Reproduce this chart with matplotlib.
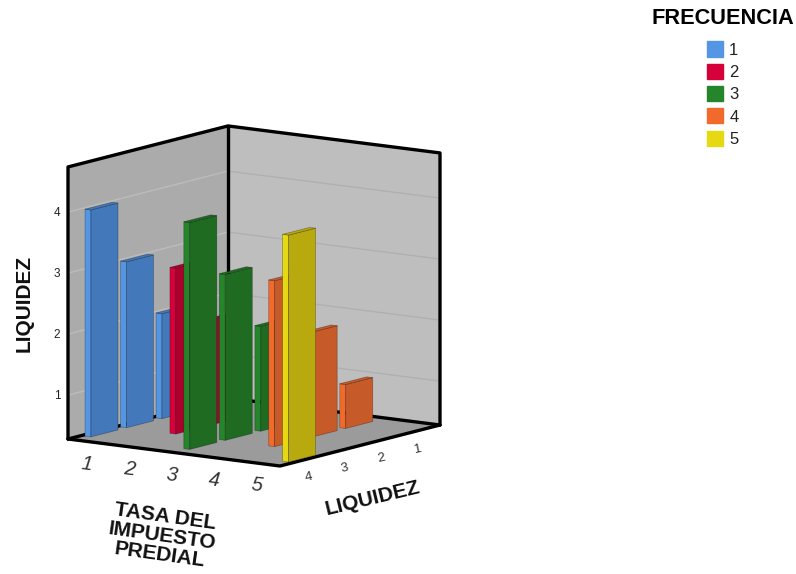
import matplotlib
matplotlib.use("Agg")
import matplotlib.pyplot as plt
from matplotlib.patches import Polygon, Patch

plt.rcParams["font.family"] = ["Liberation Sans", "DejaVu Sans"]

# Chart data: one entry per FRECUENCIA series
frecuencia_labels = ["1", "2", "3", "4", "5"]
tasa_labels = ["1", "2", "3", "4", "5"]
liquidez_labels = ["4", "3", "2", "1"]
value_ticks = [1, 2, 3, 4]
tasa_of_series = [1, 2, 3, 4, 5]
liquidez_of_series = [[4, 3, 2], [3, 2], [4, 3, 2], [3, 2, 1], [4]]

# (legend / side face, large face)
series_colors = [
    ("#5596e4", "#4378ba"),
    ("#d6003a", "#ae002e"),
    ("#24852a", "#1f6b22"),
    ("#f26a2b", "#c65a28"),
    ("#e6d812", "#b8a90e"),
]

VALUE_MIN, VALUE_MAX = 0.28, 4.74
W, H = 796, 574


def project(u, v, h):
    """Orthographic view: u along TASA, v along LIQUIDEZ depth, h is the value axis."""
    return (68 + 212 * u + 160 * v, 439 + 27 * u - 41 * v - 61 * (h - VALUE_MIN))


def tasa_u(t):
    return 0.032 + 0.233 * (t - 1)


def liquidez_v(l):
    return 0.167 + 0.222 * (4 - l)


fig = plt.figure(figsize=(W / 100, H / 100), dpi=100)
ax = fig.add_axes([0, 0, 1, 1])
ax.set_xlim(0, W)
ax.set_ylim(H, 0)
ax.axis("off")


def face(points, color, edge=None, lw=0.5, z=1):
    ax.add_patch(Polygon([project(*p) for p in points], closed=True, facecolor=color,
                         edgecolor=edge or color, linewidth=lw, zorder=z, joinstyle="round"))


# Walls and floor
lo, hi = VALUE_MIN, VALUE_MAX
face([(0, 0, lo), (0, 1, lo), (0, 1, hi), (0, 0, hi)], "#ababab")
face([(0, 1, lo), (1, 1, lo), (1, 1, hi), (0, 1, hi)], "#bebebe")
face([(0, 0, lo), (1, 0, lo), (1, 1, lo), (0, 1, lo)], "#9b9b9b")

# Value gridlines run around both walls
for tick in value_ticks:
    x, y = zip(project(0, 0, tick), project(0, 1, tick))
    ax.plot(x, y, color="#bcbcbc", lw=1.0, zorder=2)
    x, y = zip(project(0, 1, tick), project(1, 1, tick))
    ax.plot(x, y, color="#b0b0b0", lw=1.0, zorder=2)

# Heavy frame around the walls and floor
frame_paths = [
    [(0, 0, lo), (0, 0, hi), (0, 1, hi), (1, 1, hi), (1, 1, lo)],
    [(0, 1, hi), (0, 1, lo)],
    [(0, 0, lo), (0, 1, lo), (1, 1, lo)],
    [(0, 0, lo), (1, 0, lo), (1, 1, lo)],
]
for path in frame_paths:
    x, y = zip(*[project(*p) for p in path])
    ax.plot(x, y, color="black", lw=2.4, zorder=3, solid_joinstyle="round", solid_capstyle="round")

# Bars, painted from the back of the floor towards the viewer
BAR_U, BAR_V = 0.014, 0.0845
bars = []
for idx, (t, levels) in enumerate(zip(tasa_of_series, liquidez_of_series)):
    for l in levels:
        bars.append((idx, tasa_u(t), liquidez_v(l), l))
bars.sort(key=lambda b: (-b[2], b[1]))

for order, (idx, uc, vc, value) in enumerate(bars):
    side, main = series_colors[idx]
    u0, u1, v0, v1 = uc - BAR_U, uc + BAR_U, vc - BAR_V, vc + BAR_V
    z = 4 + order * 0.01
    edge = "#00000055"
    face([(u0, v0, lo), (u1, v0, lo), (u1, v0, value), (u0, v0, value)], side, edge, z=z)
    face([(u1, v0, lo), (u1, v1, lo), (u1, v1, value), (u1, v0, value)], main, edge, z=z)
    face([(u0, v0, value), (u1, v0, value), (u1, v1, value), (u0, v1, value)], main, edge, z=z)

# Axis tick labels
for tick in value_ticks:
    x, y = project(0, 0, tick)
    ax.text(x - 11, y + 1, str(tick), ha="center", va="center", fontsize=8.5, color="#222222")
for t, label in zip(tasa_of_series, tasa_labels):
    x, y = project(0.09 + 0.2 * (t - 1), 0, lo)
    ax.text(x, y + 22.5, label, ha="center", va="center", fontsize=14.5, style="italic",
            rotation=-7, color="#333333")
for i, label in enumerate(liquidez_labels):
    x, y = project(1, 0.165 + 0.228 * i, lo)
    ax.text(x + 2, y + 18, label, ha="center", va="center", fontsize=9.5, rotation=12, color="#333333")

# Axis titles
ax.text(24, 303, "LIQUIDEZ", rotation=90, ha="center", va="center", fontsize=15,
        fontweight="bold", color="#111111")
ax.text(162.5, 536, "TASA DEL\nIMPUESTO\nPREDIAL", rotation=-8, ha="center", va="center",
        multialignment="center", fontsize=15, fontweight="bold", linespacing=1.02,
        color="#111111", rotation_mode="anchor")
ax.text(373, 498, "LIQUIDEZ", rotation=13.5, ha="center", va="center", fontsize=15,
        fontweight="bold", color="#111111")

# Legend
handles = [Patch(facecolor=c[0], edgecolor=c[0]) for c in series_colors]
leg = ax.legend(handles, frecuencia_labels, title="FRECUENCIA", frameon=False, fontsize=12,
                title_fontproperties={"size": 15.7, "weight": "bold", "family": "Liberation Sans"},
                loc="upper center", bbox_to_anchor=(723 / W, 1 - 3 / H),
                bbox_transform=ax.transAxes, handlelength=0.96, handleheight=1.02,
                handletextpad=0.35, labelspacing=0.36, borderpad=0.3, borderaxespad=0)
leg._legend_box.sep = 9
for text in leg.get_texts():
    text.set_color("#222222")

fig.savefig("out.png", dpi=100, facecolor="white")
